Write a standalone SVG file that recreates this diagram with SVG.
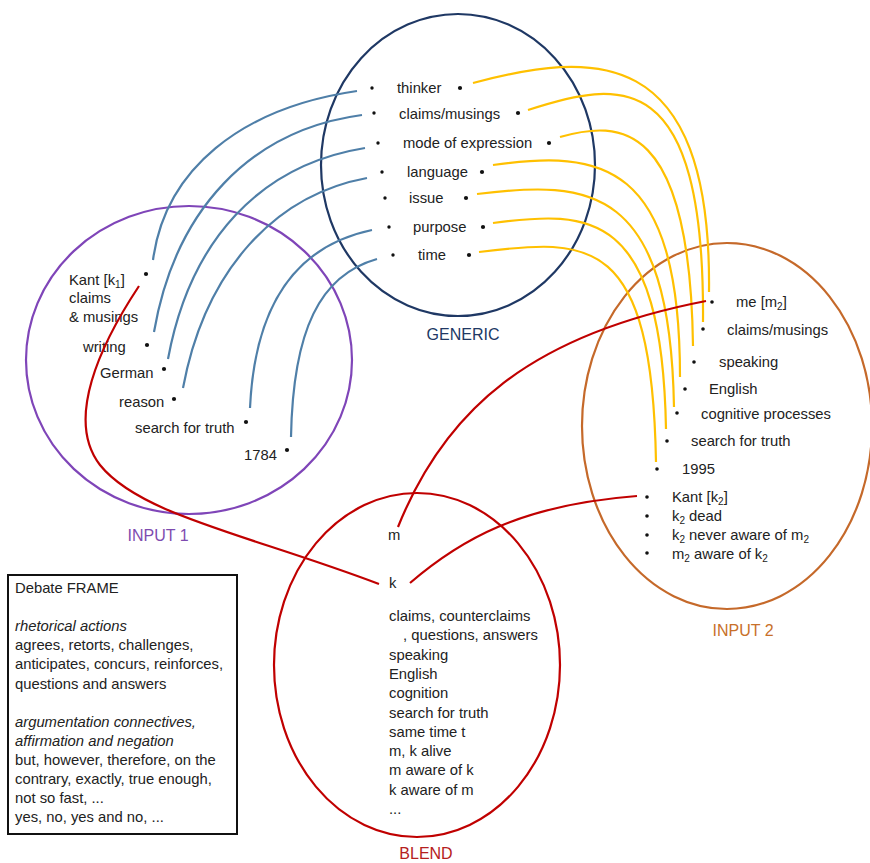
<svg xmlns="http://www.w3.org/2000/svg" width="870" height="863" viewBox="0 0 870 863">
  <style>
    text { font-family: "Liberation Sans", Arial, sans-serif; font-size: 14.8px; fill: #222; }
    text.title { font-size: 16px; }
    text.t-generic { fill: #203864; }
    text.t-input1 { fill: #7E4BB0; }
    text.t-input2 { fill: #C8702A; }
    text.t-blend { fill: #B52020; }
    .it { font-style: italic; }
    .sub { font-size: 10px; }
    .space { fill: none; stroke-width: 2.2; }
    .blue { fill: none; stroke: #4F7FA8; stroke-width: 2.2; }
    .gold { fill: none; stroke: #FFC000; stroke-width: 2.2; }
    .red { fill: none; stroke: #C00000; stroke-width: 2.2; }
    .dot { fill: #111; }
  </style>
  <rect width="870" height="863" fill="#fff"/>

  <!-- mental spaces -->
  <g id="generic">
    <ellipse class="space" cx="458" cy="165" rx="137" ry="151" stroke="#1F3864"/>
    <text class="title t-generic" x="463" y="340" text-anchor="middle">GENERIC</text>
    <g class="dot">
      <circle cx="372" cy="88" r="1.7"/><circle cx="460" cy="88" r="2.1"/>
      <circle cx="374" cy="113" r="1.7"/><circle cx="518" cy="113" r="2.1"/>
      <circle cx="378" cy="143" r="1.7"/><circle cx="549" cy="143" r="2.1"/>
      <circle cx="382" cy="172" r="1.7"/><circle cx="482" cy="172" r="2.1"/>
      <circle cx="385" cy="198" r="1.7"/><circle cx="466" cy="198" r="2.1"/>
      <circle cx="389" cy="227" r="1.7"/><circle cx="483" cy="227" r="2.1"/>
      <circle cx="393" cy="255" r="1.7"/><circle cx="469" cy="255" r="2.1"/>
    </g>
    <text x="397" y="93">thinker</text>
    <text x="399" y="119">claims/musings</text>
    <text x="403" y="148">mode of expression</text>
    <text x="407" y="177">language</text>
    <text x="409" y="203">issue</text>
    <text x="413" y="232">purpose</text>
    <text x="418" y="260">time</text>
  </g>

  <g id="input1">
    <ellipse class="space" cx="189" cy="360" rx="163" ry="154" stroke="#7F45B8"/>
    <text class="title t-input1" x="158" y="541" text-anchor="middle" font-size="16.5">INPUT 1</text>
    <g class="dot">
      <circle cx="146" cy="274" r="2.1"/>
      <circle cx="147" cy="345" r="2.1"/>
      <circle cx="164" cy="369" r="2.1"/>
      <circle cx="174" cy="399" r="2.1"/>
      <circle cx="246" cy="422" r="2.1"/>
      <circle cx="287" cy="450" r="2.1"/>
    </g>
    <text x="69" y="285">Kant [k<tspan class="sub" dy="3">1</tspan><tspan dy="-3">]</tspan></text>
    <text x="69" y="303">claims</text>
    <text x="69" y="322">&amp; musings</text>
    <text x="83" y="352">writing</text>
    <text x="100" y="378">German</text>
    <text x="119" y="407">reason</text>
    <text x="135" y="433">search for truth</text>
    <text x="244" y="460">1784</text>
  </g>

  <g id="input2">
    <ellipse class="space" cx="727" cy="426" rx="145" ry="183" stroke="#C5692A"/>
    <text class="title t-input2" x="743" y="636" text-anchor="middle">INPUT 2</text>
    <g class="dot">
      <circle cx="712" cy="302" r="1.8"/>
      <circle cx="703" cy="329" r="1.8"/>
      <circle cx="694" cy="362" r="1.8"/>
      <circle cx="685" cy="389" r="1.8"/>
      <circle cx="677" cy="413" r="1.8"/>
      <circle cx="667" cy="441" r="1.8"/>
      <circle cx="657" cy="469" r="1.8"/>
      <circle cx="647" cy="497" r="1.8"/>
      <circle cx="647" cy="516" r="1.8"/>
      <circle cx="647" cy="535" r="1.8"/>
      <circle cx="647" cy="553" r="1.8"/>
    </g>
    <text x="736" y="307">me [m<tspan class="sub" dy="3">2</tspan><tspan dy="-3">]</tspan></text>
    <text x="727" y="335">claims/musings</text>
    <text x="719" y="367">speaking</text>
    <text x="709" y="394">English</text>
    <text x="701" y="419">cognitive processes</text>
    <text x="691" y="446">search for truth</text>
    <text x="682" y="474">1995</text>
    <text x="672" y="502">Kant [k<tspan class="sub" dy="3">2</tspan><tspan dy="-3">]</tspan></text>
    <text x="672" y="521">k<tspan class="sub" dy="3">2</tspan><tspan dy="-3"> dead</tspan></text>
    <text x="672" y="540">k<tspan class="sub" dy="3">2</tspan><tspan dy="-3"> never aware of m</tspan><tspan class="sub" dy="3">2</tspan></text>
    <text x="672" y="559">m<tspan class="sub" dy="3">2</tspan><tspan dy="-3"> aware of k</tspan><tspan class="sub" dy="3">2</tspan></text>
  </g>

  <g id="blend">
    <ellipse class="space" cx="417" cy="665" rx="143" ry="172" stroke="#C00000"/>
    <text class="title t-blend" x="426" y="859" text-anchor="middle">BLEND</text>
    <text x="388" y="540">m</text>
    <text x="389" y="588">k</text>
    <text x="389" y="621">claims, counterclaims</text>
    <text x="403" y="640">, questions, answers</text>
    <text x="389" y="659.6">speaking</text>
    <text x="389" y="678.9">English</text>
    <text x="389" y="698.2">cognition</text>
    <text x="389" y="717.5">search for truth</text>
    <text x="389" y="736.8">same time t</text>
    <text x="389" y="756.1">m, k alive</text>
    <text x="389" y="775.4">m aware of k</text>
    <text x="389" y="794.7">k aware of m</text>
    <text x="389" y="814">...</text>
  </g>

  <g id="debate-frame">
    <rect x="8" y="575" width="229" height="259" fill="#fff" stroke="#111" stroke-width="2"/>
    <text x="15" y="593">Debate FRAME</text>
    <text class="it" x="15" y="631">rhetorical actions</text>
    <text x="15" y="650">agrees, retorts, challenges,</text>
    <text x="15" y="669">anticipates, concurs, reinforces,</text>
    <text x="15" y="689">questions and answers</text>
    <text class="it" x="15" y="727">argumentation connectives,</text>
    <text class="it" x="15" y="746">affirmation and negation</text>
    <text x="15" y="765">but, however, therefore, on the</text>
    <text x="15" y="784">contrary, exactly, true enough,</text>
    <text x="15" y="803">not so fast, ...</text>
    <text x="15" y="822">yes, no, yes and no, ...</text>
  </g>

  <g id="connectors">
    <!-- generic to input 1 -->
    <path class="blue" d="M357,91 C240,108 165,170 153,260"/>
    <path class="blue" d="M362,115 C250,130 175,210 154,332"/>
    <path class="blue" d="M365,148 C260,165 190,240 168,359"/>
    <path class="blue" d="M367,178 C275,195 205,270 183,388"/>
    <path class="blue" d="M372,230 C300,245 255,300 250,408"/>
    <path class="blue" d="M377,259 C320,275 293,330 291,437"/>
    <!-- generic to input 2 -->
    <path class="gold" d="M473,83 C590,52 712,40 709,292"/>
    <path class="gold" d="M528,110 C620,80 705,65 703,322"/>
    <path class="gold" d="M560,137 C620,120 690,120 693,346"/>
    <path class="gold" d="M493,165 C600,150 680,160 680,377"/>
    <path class="gold" d="M477,194 C590,180 670,185 674,407"/>
    <path class="gold" d="M493,223 C590,210 662,210 666,429"/>
    <path class="gold" d="M479,252 C590,238 652,235 656,462"/>
    <!-- inputs to blend -->
    <path class="red" d="M139,286 C100,345 65,420 100,465 C140,515 250,535 379,584"/>
    <path class="red" d="M398,527 C445,410 530,335 706,301"/>
    <path class="red" d="M410,583 C460,540 520,505 637,496"/>
  </g>
</svg>
